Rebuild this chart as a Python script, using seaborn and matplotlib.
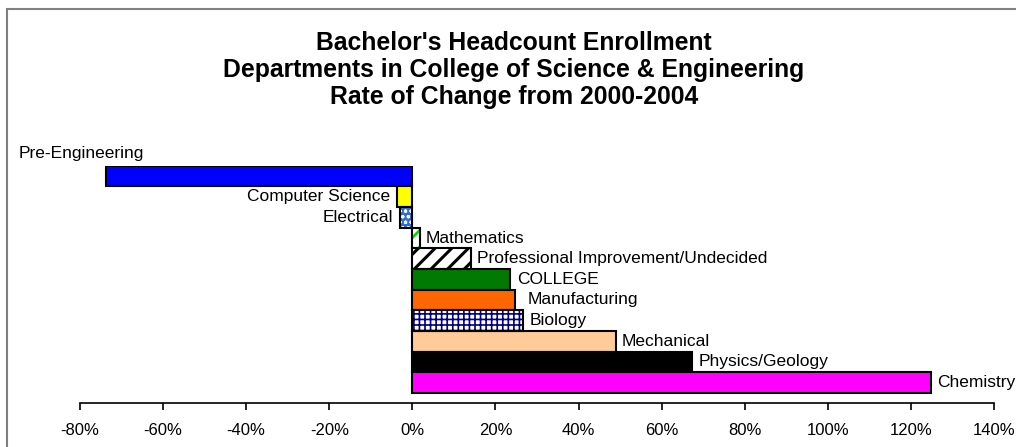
import matplotlib
matplotlib.use("Agg")
import matplotlib.pyplot as plt
from matplotlib.patches import Rectangle
from matplotlib.ticker import PercentFormatter
import pandas as pd
import seaborn as sns

# Rate of change 2000-2004, in percent
departments = [
    "Pre-Engineering", "Computer Science", "Electrical", "Mathematics",
    "Professional Improvement/Undecided", "COLLEGE", "Manufacturing",
    "Biology", "Mechanical", "Physics/Geology", "Chemistry",
]
change_pct = [-73.8, -3.6, -3.0, 1.8, 14.0, 23.6, 24.7, 26.7, 48.9, 67.3, 124.8]
bar_colors = [
    "#0000FF", "#FFFF00", "#2F6FD6", "#FFFFFF", "#FFFFFF", "#007A00",
    "#FF6600", "#FFFFFF", "#FFCC99", "#000000", "#FF00FF",
]
# patterned fills: department -> (hatch, hatch colour, hatch width)
patterns = {
    "Electrical": ("ooo", "#FFFFFF", 0.8),
    "Mathematics": ("//", "#00DD00", 2.0),
    "Professional Improvement/Undecided": ("//", "#000000", 2.2),
    "Biology": ("+++", "#000080", 1.2),
}
x_ticks = [-80, -60, -40, -20, 0, 20, 40, 60, 80, 100, 120, 140]
title_lines = [
    "Bachelor's Headcount Enrollment",
    "Departments in College of Science & Engineering",
    "Rate of Change from 2000-2004",
]

df = pd.DataFrame({"dept": departments, "change": change_pct})

sns.set_style("white")
plt.rcParams["font.family"] = ["Liberation Sans", "DejaVu Sans"]
plt.rcParams["text.color"] = "black"
plt.rcParams["xtick.color"] = "black"
plt.rcParams["axes.unicode_minus"] = False

W, H = 1016, 447
fig = plt.figure(figsize=(W / 100, H / 100), dpi=100)
ax = fig.add_axes([80 / W, 1 - 403.3 / H, 914 / W, (403.3 - 165.7) / H])

sns.barplot(data=df, x="change", y="dept", hue="dept", palette=bar_colors,
            orient="h", width=1.0, legend=False, edgecolor="black",
            linewidth=1.5, saturation=1, ax=ax)

bars = [c.patches[0] for c in ax.containers]
for dept, p in zip(departments, bars):
    if dept in patterns:
        hatch, hcol, hlw = patterns[dept]
        p.set_hatch(hatch)
        p.set_edgecolor(hcol)
        p.set_linewidth(0)
        if hasattr(p, "set_hatch_linewidth"):
            p.set_hatch_linewidth(hlw)
        ax.add_patch(Rectangle(p.get_xy(), p.get_width(), p.get_height(),
                               fill=False, edgecolor="black", linewidth=1.5,
                               zorder=p.get_zorder() + 0.1))

# data labels with the department name
for dept, val, p in zip(departments, change_pct, bars):
    yc = p.get_y() + p.get_height() / 2
    if dept == "Pre-Engineering":
        ax.annotate(dept, xy=(val, p.get_y()), xytext=(-63, 9),
                    textcoords="offset points", ha="left", va="center",
                    fontsize=12.5, annotation_clip=False)
    elif val < 0:
        ax.annotate(dept, xy=(val, yc), xytext=(-5, 0),
                    textcoords="offset points", ha="right", va="center",
                    fontsize=12.5, annotation_clip=False)
    else:
        nudge = 9 if dept == "Manufacturing" else 4.5
        ax.annotate(dept, xy=(val, yc), xytext=(nudge, 0),
                    textcoords="offset points", ha="left", va="center",
                    fontsize=12.5, annotation_clip=False)

ax.set_xlim(-80, 140)
ax.set_ylim(11.0, -0.5)
ax.set_xticks(x_ticks)
ax.xaxis.set_major_formatter(PercentFormatter(decimals=0))
ax.set_yticks([])
ax.set_xlabel("")
ax.set_ylabel("")
for side in ["top", "right", "left"]:
    ax.spines[side].set_visible(False)
ax.spines["bottom"].set_color("black")
ax.spines["bottom"].set_linewidth(1.2)
ax.tick_params(axis="x", direction="out", length=5, width=1.2, color="black",
               labelcolor="black", labelsize=12, pad=9, bottom=True)
ax.patch.set_alpha(0)

for i, line in enumerate(title_lines):
    fig.text(514 / W, 1 - (43 + 27 * i) / H, line, ha="center", va="center",
             fontsize=17.8, fontweight="bold")

# chart frame
fig.patches.append(Rectangle((7 / W, -0.2), 1.2, 1.2 - 9 / H, fill=False,
                             edgecolor="#808080", linewidth=1.5,
                             transform=fig.transFigure, figure=fig))

fig.savefig("out.png", dpi=100)
